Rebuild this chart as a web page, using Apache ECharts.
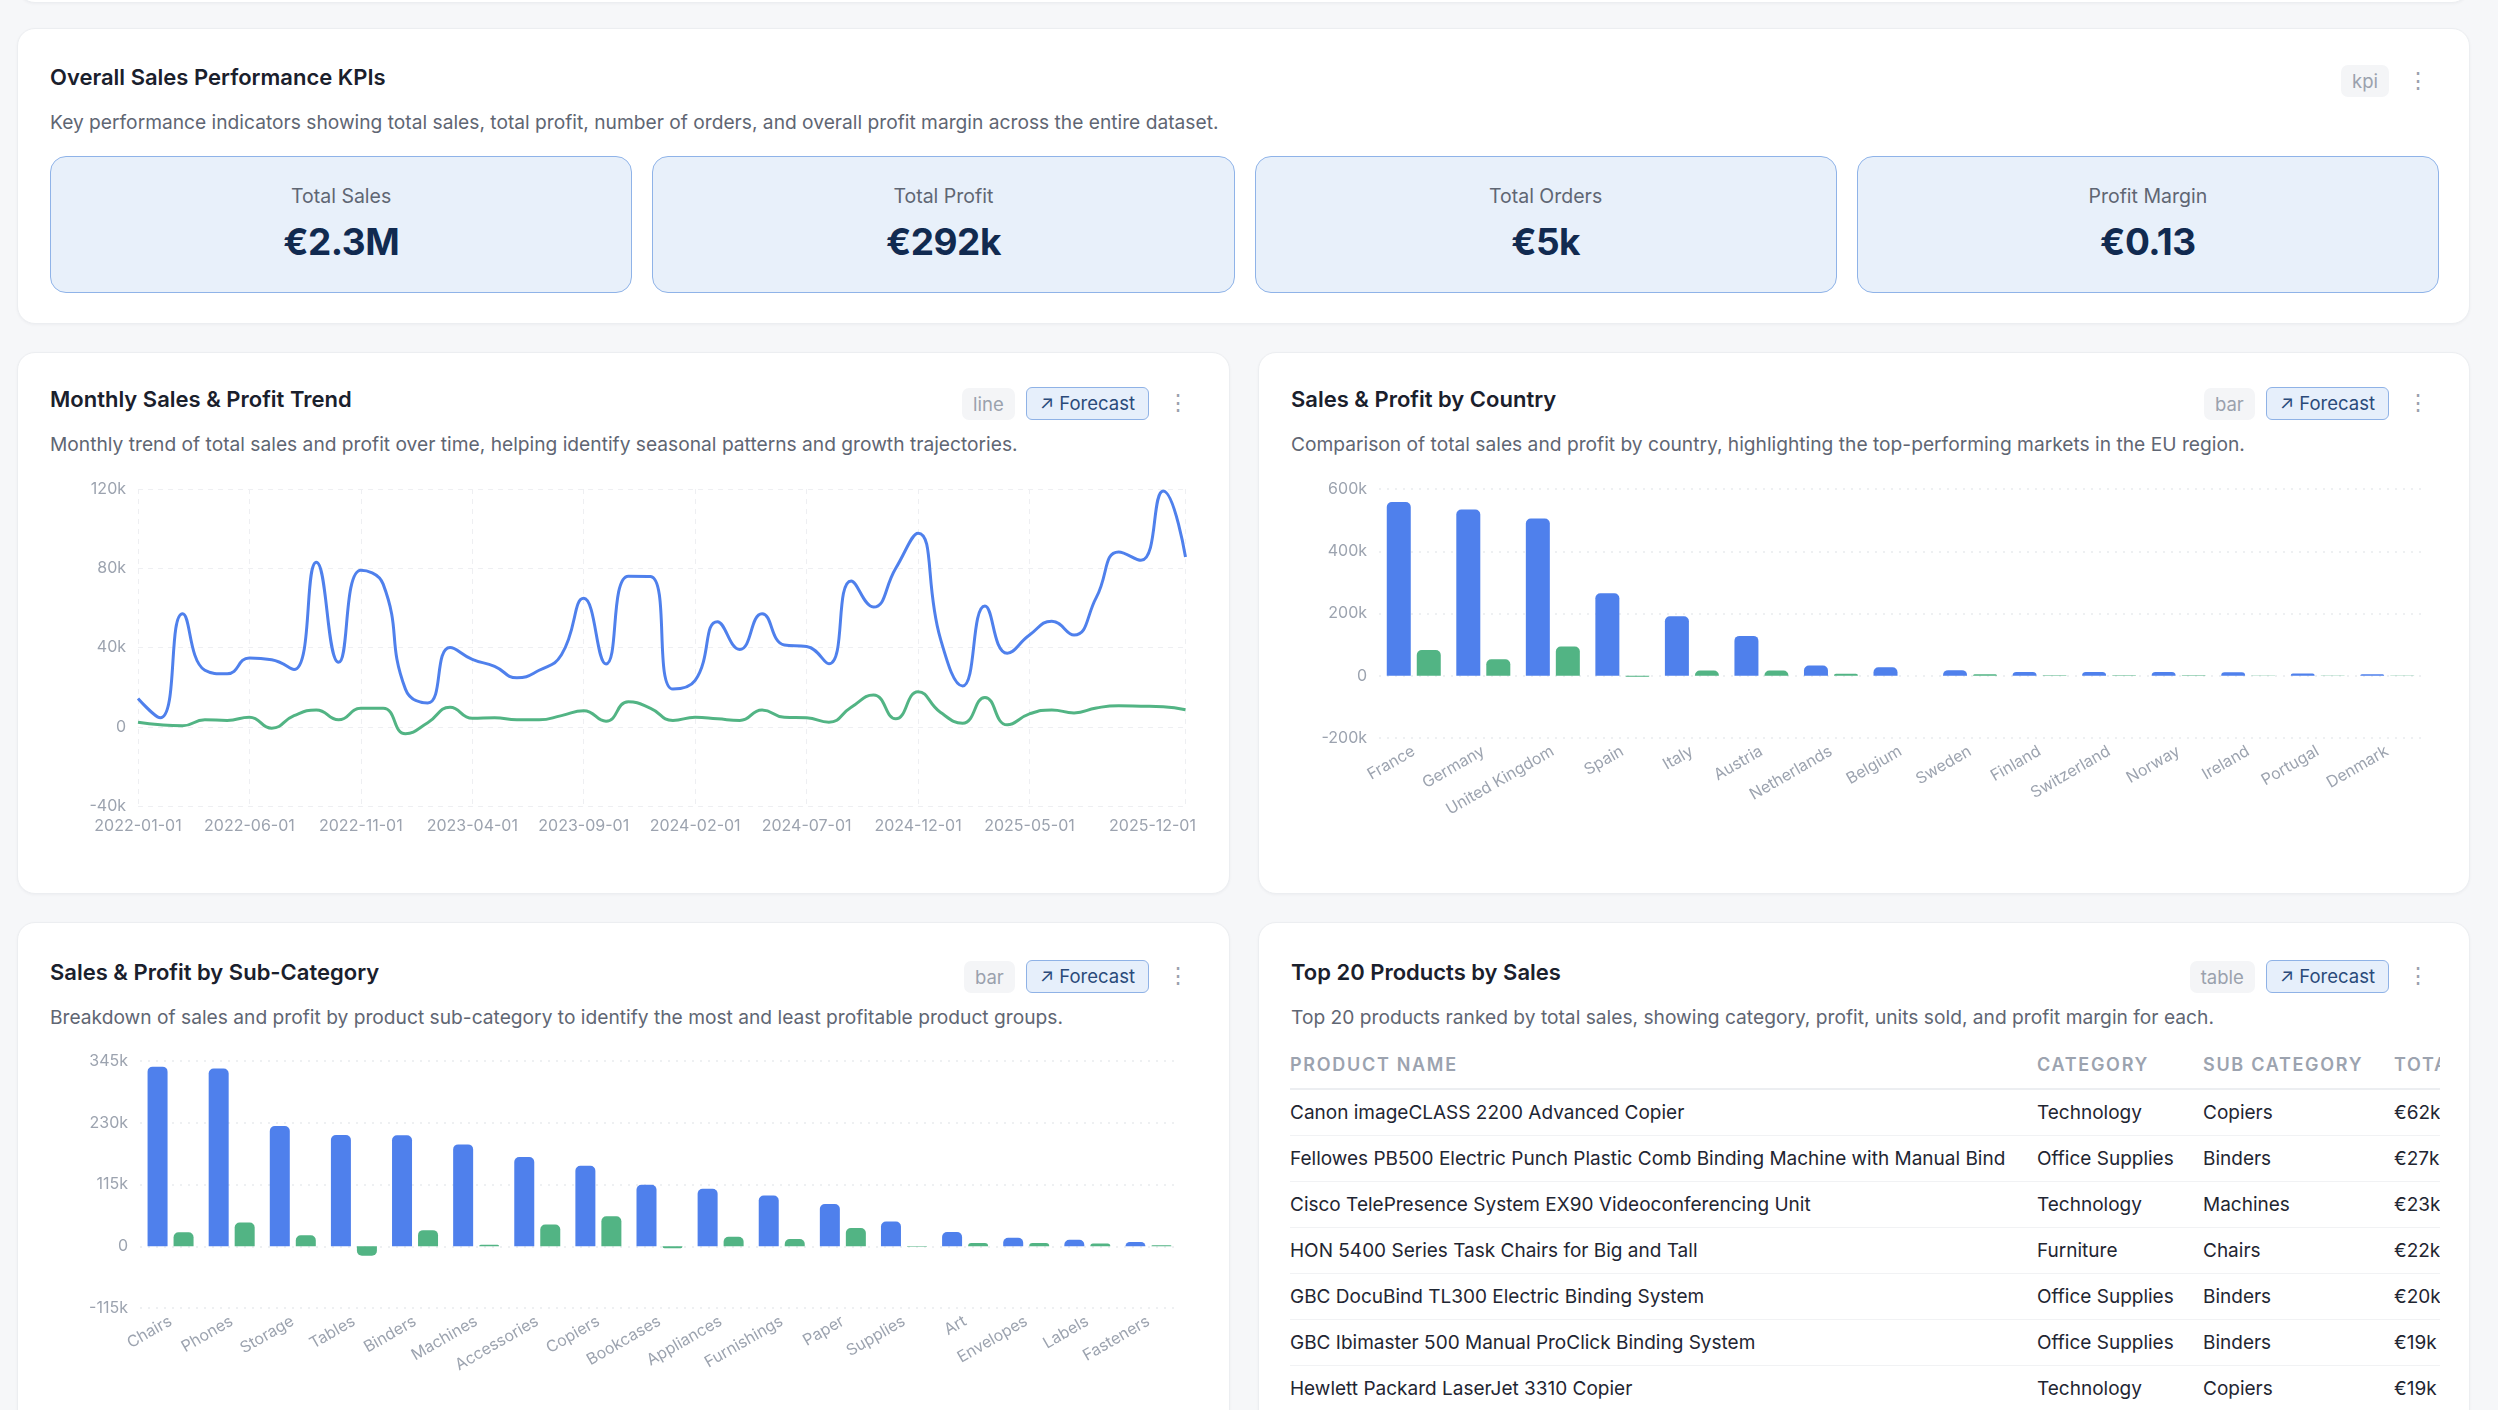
<!DOCTYPE html>
<html>
<head>
<meta charset="utf-8">
<script src="https://cdn.jsdelivr.net/npm/echarts/dist/echarts.min.js"></script>
<style>
  html, body { margin:0; padding:0; }
  body { width:2498px; height:1410px; overflow:hidden; background:#f6f7f9; position:relative;
         font-family: Inter, "Noto Sans", "Open Sans", sans-serif; }
  .card { position:absolute; background:#fff; border:1px solid #eceef1; border-radius:18px;
          box-shadow:0 1px 3px rgba(16,24,40,0.04); box-sizing:border-box; overflow:hidden; }
  .title { position:absolute; left:32px; font-size:22px; font-weight:600; color:#1a202c; line-height:26px; white-space:nowrap; }
  .desc { position:absolute; left:32px; font-size:19.2px; color:#5f6673; line-height:22px; white-space:nowrap; }
  .tools { position:absolute; right:80px; display:flex; gap:11px; align-items:center; }
  .badge { height:32px; line-height:32px; padding:0 11px; border-radius:7px; background:#f4f5f7; color:#9aa1ad; font-size:18.5px; }
  .fc { height:31px; line-height:31px; padding:0 13px; border-radius:6px; background:#e6effb; border:1px solid #8fb2e6; color:#2a4a7a; font-size:18.5px; }
  .dots { position:absolute; right:40px; color:#9aa1ad; font-size:22px; line-height:26px; }
  .kpis { position:absolute; left:32px; top:127px; width:2389px; height:137px; display:flex; gap:20px; }
  .kpi { flex:1; position:relative; background:#e8f0fa; border:1px solid #8fb3e8; border-radius:16px; box-sizing:border-box; }
  .kpi .lab { position:absolute; left:0; right:0; top:27px; text-align:center; font-size:19.5px; color:#5f6673; line-height:24px; }
  .kpi .val { position:absolute; left:0; right:0; top:62px; text-align:center; font-size:37px; font-weight:700; color:#112a50; line-height:46px; letter-spacing:-0.5px; }
  .chart { position:absolute; }
  #tbl { position:absolute; left:1290px; top:1040px; width:1150px; height:370px; overflow:hidden; }
  #tbl table { border-collapse:collapse; table-layout:fixed; width:1300px; }
  #tbl th { text-align:left; font-size:18px; font-weight:600; color:#9ca3af; letter-spacing:1.7px; height:48px; border-bottom:2px solid #eceef1; padding:0; white-space:nowrap; }
  #tbl td { font-size:19px; color:#1f2632; height:45px; border-bottom:1px solid #f1f2f4; padding:0; white-space:nowrap; }
</style>
</head>
<body>
<script>
// ---------------- DATA ----------------
const kpiLabels = ["Total Sales", "Total Profit", "Total Orders", "Profit Margin"];
const kpiValues = ["€2.3M", "€292k", "€5k", "€0.13"];

const months = [
  "2022-01-01","2022-02-01","2022-03-01","2022-04-01","2022-05-01","2022-06-01",
  "2022-07-01","2022-08-01","2022-09-01","2022-10-01","2022-11-01","2022-12-01",
  "2023-01-01","2023-02-01","2023-03-01","2023-04-01","2023-05-01","2023-06-01",
  "2023-07-01","2023-08-01","2023-09-01","2023-10-01","2023-11-01","2023-12-01",
  "2024-01-01","2024-02-01","2024-03-01","2024-04-01","2024-05-01","2024-06-01",
  "2024-07-01","2024-08-01","2024-09-01","2024-10-01","2024-11-01","2024-12-01",
  "2025-01-01","2025-02-01","2025-03-01","2025-04-01","2025-05-01","2025-06-01",
  "2025-07-01","2025-08-01","2025-09-01","2025-10-01","2025-11-01","2025-12-01"
];
const monthlySales = [
  14300, 4500, 57000, 28500, 26700, 34700, 33800, 28900, 83000, 32500, 79000, 72000,
  19000, 12000, 40000, 34000, 30500, 24700, 28500, 36300, 64800, 31700, 76000, 75800,
  19000, 23400, 53000, 39000, 57000, 41300, 40500, 31800, 73600, 60400, 80000, 97700,
  44600, 20600, 60900, 37100, 46300, 53200, 46300, 65300, 88200, 84000, 119000, 85700
];
const monthlyProfit = [
  2300, 1000, 500, 3500, 3200, 4800, -700, 5600, 8500, 3500, 9300, 9300,
  -3500, 2000, 9800, 4300, 4600, 3500, 3500, 5600, 8100, 2800, 12600, 9300,
  3200, 4800, 4000, 3200, 8500, 4800, 4500, 2300, 9800, 16000, 4000, 17700,
  7300, 1800, 14800, 1000, 6500, 8500, 7000, 9500, 10600, 10400, 10100, 8600
];

const countries = ["France","Germany","United Kingdom","Spain","Italy","Austria","Netherlands","Belgium",
  "Sweden","Finland","Switzerland","Norway","Ireland","Portugal","Denmark"];
const countrySales = [558000, 534000, 505000, 265000, 191000, 128000, 33000, 27000, 18000, 12000, 12000, 12000, 11000, 7000, 5000];
const countryProfit = [83000, 53000, 94000, -3000, 17000, 17000, 6500, 300, 5000, 2000, 2000, 1500, 1000, 1000, 500];

const subCategories = ["Chairs","Phones","Storage","Tables","Binders","Machines","Accessories","Copiers",
  "Bookcases","Appliances","Furnishings","Paper","Supplies","Art","Envelopes","Labels","Fasteners"];
const subSales = [334500, 331000, 224000, 207000, 206700, 189700, 166000, 149700, 114500, 107000, 94500, 78800, 46000, 26700, 15800, 12000, 8000];
const subProfit = [26000, 44000, 20600, -17600, 30000, 3000, 40600, 55800, -3600, 17600, 13300, 34000, -1000, 6000, 6000, 5000, 2000];

const tableColumns = ["Product Name", "Category", "Sub Category", "Total Sales"];
const productNames = [
  "Canon imageCLASS 2200 Advanced Copier",
  "Fellowes PB500 Electric Punch Plastic Comb Binding Machine with Manual Bind",
  "Cisco TelePresence System EX90 Videoconferencing Unit",
  "HON 5400 Series Task Chairs for Big and Tall",
  "GBC DocuBind TL300 Electric Binding System",
  "GBC Ibimaster 500 Manual ProClick Binding System",
  "Hewlett Packard LaserJet 3310 Copier"
];
const productCategories = ["Technology","Office Supplies","Technology","Furniture","Office Supplies","Office Supplies","Technology"];
const productSubCategories = ["Copiers","Binders","Machines","Chairs","Binders","Binders","Copiers"];
const productSales = ["€62k","€27k","€23k","€22k","€20k","€19k","€19k"];

// ---------------- LAYOUT ----------------
const BLUE = "#4f80ec", GREEN = "#52b484";
function el(tag, cls, parent, css, html) {
  const e = document.createElement(tag);
  if (cls) e.className = cls;
  if (css) Object.assign(e.style, css);
  if (html !== undefined) e.innerHTML = html;
  (parent || document.body).appendChild(e);
  return e;
}
function card(l, t, w, h, title, desc, badge, forecast, titleTop) {
  const c = el("div", "card", null, {left:l+"px", top:t+"px", width:w+"px", height:h+"px"});
  if (title) {
    el("div", "title", c, {top:titleTop+"px"}, title);
    el("div", "desc", c, {top:(titleTop+47)+"px"}, desc);
    const tools = el("div", "tools", c, {top:(titleTop+1)+"px"});
    el("div", "badge", tools, null, badge);
    if (forecast) el("div", "fc", tools, null, "↗ Forecast");
    el("div", "dots", c, {top:(titleTop+3)+"px"}, "⋮");
  }
  return c;
}
card(17, -40, 2453, 43);
const kc = card(17, 28, 2453, 296, "Overall Sales Performance KPIs",
  "Key performance indicators showing total sales, total profit, number of orders, and overall profit margin across the entire dataset.", "kpi", false, 35);
const kp = el("div", "kpis", kc);
kpiLabels.forEach((l, i) => {
  const b = el("div", "kpi", kp);
  el("div", "lab", b, null, l);
  el("div", "val", b, null, kpiValues[i]);
});
card(17, 352, 1213, 542, "Monthly Sales &amp; Profit Trend",
  "Monthly trend of total sales and profit over time, helping identify seasonal patterns and growth trajectories.", "line", true, 33);
card(1258, 352, 1212, 542, "Sales &amp; Profit by Country",
  "Comparison of total sales and profit by country, highlighting the top-performing markets in the EU region.", "bar", true, 33);
card(17, 922, 1213, 600, "Sales &amp; Profit by Sub-Category",
  "Breakdown of sales and profit by product sub-category to identify the most and least profitable product groups.", "bar", true, 36);
card(1258, 922, 1212, 600, "Top 20 Products by Sales",
  "Top 20 products ranked by total sales, showing category, profit, units sold, and profit margin for each.", "table", true, 36);

// table
const tw = el("div", null, null); tw.id = "tbl";
let html = '<table><colgroup><col style="width:747px"><col style="width:166px"><col style="width:191px"><col style="width:196px"></colgroup><thead><tr>';
tableColumns.forEach(c => html += "<th>" + c.toUpperCase() + "</th>");
html += "</tr></thead><tbody>";
productNames.forEach((p, i) => {
  html += "<tr><td>" + p + "</td><td>" + productCategories[i] + "</td><td>" + productSubCategories[i] + "</td><td>" + productSales[i] + "</td></tr>";
});
html += "</tbody></table>";
tw.innerHTML = html;

// ---------------- CHARTS ----------------
const FONT = "Inter, 'Noto Sans', sans-serif";
const LABEL = {color:"#9ca3af", fontSize:16, fontFamily:FONT};
const kfmt = v => v === 0 ? "0" : (v/1000) + "k";

function mk(l, t, w, h) {
  const d = el("div", "chart", null, {left:l+"px", top:t+"px", width:w+"px", height:h+"px"});
  return echarts.init(d, null, {renderer:"canvas"});
}

// Line chart
const lc = mk(49, 470, 1151, 390);
const lastIdx = months.length - 1;
const showTick = i => (i % 5 === 0 && i <= 40) || i === lastIdx;
lc.setOption({
  animation:false,
  grid:{left:89, top:19, right:14.5, bottom:54, outerBoundsMode:"none", containLabel:false},
  xAxis:{type:"category", data:months, boundaryGap:false,
    axisLine:{show:false}, axisTick:{show:false},
    axisLabel:Object.assign({interval:(i)=>showTick(i), margin:12,
      formatter:(v, i) => i === lastIdx ? "{r|" + v + "}" : v,
      rich:{r:Object.assign({padding:[0,66,0,0]}, LABEL)}}, LABEL),
    splitLine:{show:true, interval:(i)=>showTick(i), lineStyle:{type:[5,5], color:"#eeeff2"}}},
  yAxis:{type:"value", min:-40000, max:120000, interval:40000,
    axisLabel:Object.assign({formatter:kfmt, margin:12}, LABEL),
    splitLine:{lineStyle:{type:[5,5], color:"#eeeff2"}}},
  series:[
    {name:"Sales", type:"line", data:monthlySales, smooth:true, showSymbol:false, lineStyle:{width:3, color:BLUE}, itemStyle:{color:BLUE}},
    {name:"Profit", type:"line", data:monthlyProfit, smooth:true, showSymbol:false, lineStyle:{width:3, color:GREEN}, itemStyle:{color:GREEN}}
  ]
});

function barData(arr) {
  return arr.map(v => ({value:v, itemStyle:{borderRadius: v < 0 ? [0,0,5,5] : [5,5,0,0]}}));
}

// Country chart
const cc = mk(1270, 470, 1190, 400);
cc.setOption({
  animation:false,
  grid:{left:109, top:19, right:38, bottom:132, outerBoundsMode:"none", containLabel:false},
  xAxis:{type:"category", data:countries,
    axisLine:{show:false, onZero:false}, axisTick:{show:false},
    axisLabel:Object.assign({interval:0, rotate:30, margin:12}, LABEL)},
  yAxis:{type:"value", min:-200000, max:600000, interval:200000,
    axisLabel:Object.assign({formatter:kfmt, margin:12}, LABEL),
    splitLine:{lineStyle:{type:[2,6], width:1.5, color:"#e9ebee"}}},
  series:[
    {name:"Sales", type:"bar", data:barData(countrySales), barWidth:24, barGap:"25%", itemStyle:{color:BLUE}},
    {name:"Profit", type:"bar", data:barData(countryProfit), barWidth:24, itemStyle:{color:GREEN}}
  ]
});

// Sub-category chart
const sc = mk(49, 1040, 1151, 370);
sc.setOption({
  animation:false,
  grid:{left:91, top:21, right:21, bottom:102, outerBoundsMode:"none", containLabel:false},
  xAxis:{type:"category", data:subCategories,
    axisLine:{show:false, onZero:false}, axisTick:{show:false},
    axisLabel:Object.assign({interval:0, rotate:30, margin:12}, LABEL)},
  yAxis:{type:"value", min:-115000, max:345000, interval:115000,
    axisLabel:Object.assign({formatter:kfmt, margin:12}, LABEL),
    splitLine:{lineStyle:{type:[2,6], width:1.5, color:"#e9ebee"}}},
  series:[
    {name:"Sales", type:"bar", data:barData(subSales), barWidth:20, barGap:"30%", itemStyle:{color:BLUE}},
    {name:"Profit", type:"bar", data:barData(subProfit), barWidth:20, itemStyle:{color:GREEN}}
  ]
});
</script>
</body>
</html>
